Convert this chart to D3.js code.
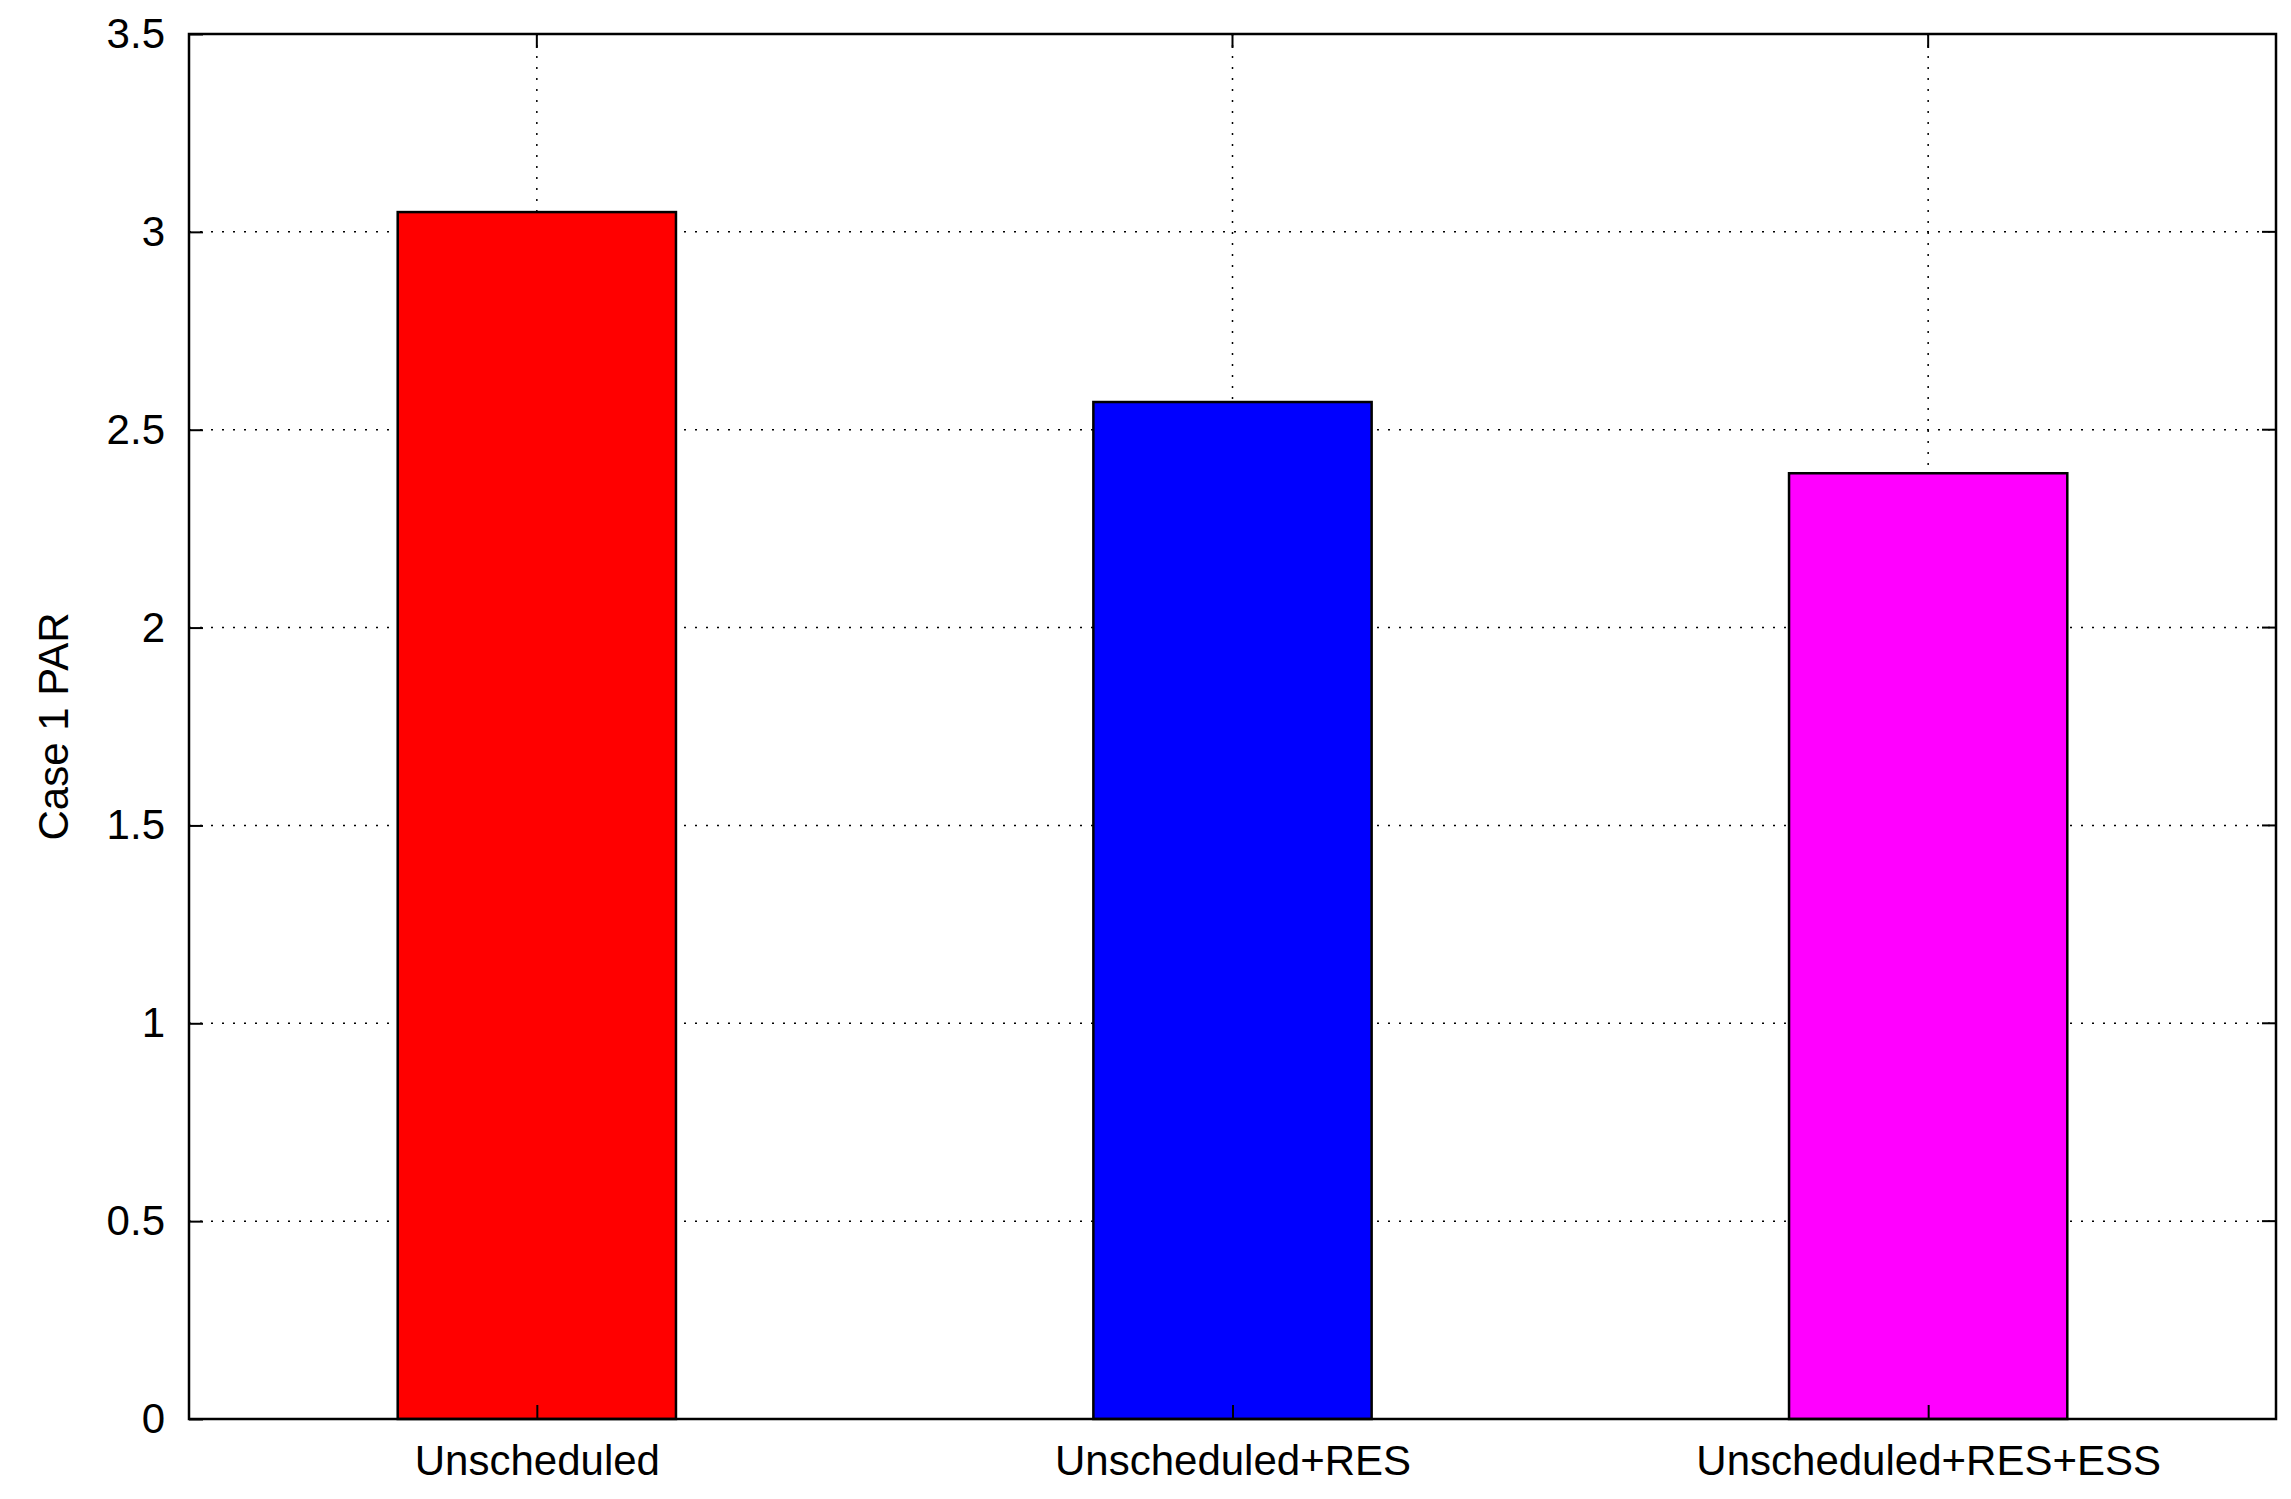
<!DOCTYPE html>
<html><head><meta charset="utf-8">
<script src="https://cdn.jsdelivr.net/npm/d3@7"></script>
<style>body{margin:0;background:#fff}</style></head>
<body><svg id="c" width="2291" height="1499"></svg>
<script>
const categories=["Unscheduled","Unscheduled+RES","Unscheduled+RES+ESS"];
const values=[3.05,2.57,2.39];
const colors=["#ff0000","#0000ff","#ff00ff"];
const yTicks=[0,0.5,1,1.5,2,2.5,3,3.5];
const yLabels=["0","0.5","1","1.5","2","2.5","3","3.5"];
const yTitle="Case 1 PAR";

const svg=d3.select("#c");
const L=189,R=2276,T=34,B=1419;
const x=d3.scaleLinear().domain([0.5,3.5]).range([L,R]);
const y=d3.scaleLinear().domain([0,3.5]).range([B,T]);
const font="Liberation Sans, Arial, sans-serif";
const g=svg.append("g");
// grid
yTicks.forEach(t=>{ if(t>0&&t<3.5) g.append("line").attr("x1",L).attr("x2",R).attr("y1",y(t)).attr("y2",y(t)).attr("stroke","#000").attr("stroke-width",1.5).attr("stroke-dasharray","2,9");});
categories.forEach((c,i)=>g.append("line").attr("x1",x(i+1)).attr("x2",x(i+1)).attr("y1",T).attr("y2",B).attr("stroke","#000").attr("stroke-width",1.5).attr("stroke-dasharray","2,9"));
// bars
const bw=0.2;
g.selectAll("rect.bar").data(values).enter().append("rect")
 .attr("x",(d,i)=>x(i+1-bw))
 .attr("width",(d,i)=>x(i+1+bw)-x(i+1-bw))
 .attr("y",d=>y(d)).attr("height",d=>B-y(d))
 .attr("fill",(d,i)=>colors[i]).attr("stroke","#000").attr("stroke-width",2.5);
// box
g.append("rect").attr("x",L).attr("y",T).attr("width",R-L).attr("height",B-T).attr("fill","none").attr("stroke","#000").attr("stroke-width",2.5);
// y axis ticks
const ya=d3.axisLeft(y).tickValues(yTicks).tickFormat((d,i)=>yLabels[i]).tickSizeInner(-14).tickSizeOuter(0).tickPadding(24);
const yg=svg.append("g").attr("transform",`translate(${L},0)`).call(ya);
yg.select(".domain").remove();
yg.selectAll("line").attr("stroke-width",2);
yg.selectAll("text").attr("font-family",font).attr("font-size",42).attr("fill","#000");
// right ticks
yTicks.forEach(t=>svg.append("line").attr("x1",R).attr("x2",R-14).attr("y1",y(t)).attr("y2",y(t)).attr("stroke","#000").attr("stroke-width",2));
// x axis
const xa=d3.axisBottom(x).tickValues([1,2,3]).tickFormat((d,i)=>categories[i]).tickSizeInner(-14).tickSizeOuter(0).tickPadding(26);
const xg=svg.append("g").attr("transform",`translate(0,${B})`).call(xa);
xg.select(".domain").remove();
xg.selectAll("line").attr("stroke-width",2);
xg.selectAll("text").attr("font-family",font).attr("font-size",42).attr("fill","#000");
[1,2,3].forEach(t=>svg.append("line").attr("x1",x(t)).attr("x2",x(t)).attr("y1",T).attr("y2",T+14).attr("stroke","#000").attr("stroke-width",2));
svg.append("text").attr("transform",`translate(68,${(T+B)/2}) rotate(-90)`).attr("text-anchor","middle")
 .attr("font-family",font).attr("font-size",42).text(yTitle);
</script></body></html>
